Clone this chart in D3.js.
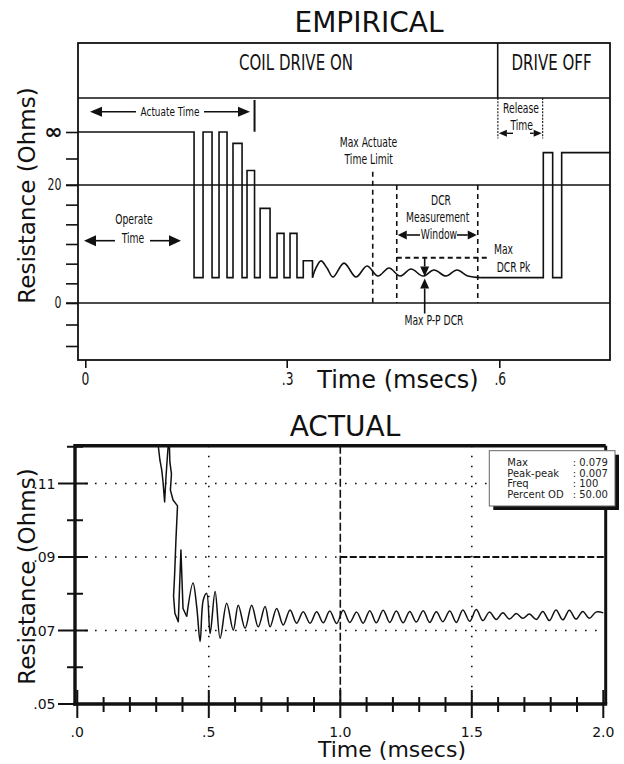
<!DOCTYPE html>
<html><head><meta charset="utf-8">
<script src="https://cdn.jsdelivr.net/npm/d3@7"></script>
<style>body{margin:0;background:#fff} svg{display:block}</style>
</head><body>
<svg id="c" width="624" height="764"></svg>
<script>
// ---------------- DATA ----------------
// EMPIRICAL panel (time in ms, resistance in axis divisions: 0 -> "0", 6 -> "20", 8 -> "∞")
const empStepT = [-0.0109, 0.162, 0.1754, 0.1888, 0.1992, 0.2111, 0.2200, 0.2335, 0.2409, 0.2521, 0.2604, 0.2752, 0.2856, 0.2960, 0.3047, 0.3145, 0.3234, 0.3364];
const empStepV = [8, 1.29, 8, 1.29, 8, 1.29, 7.57, 1.29, 6.55, 1.29, 4.81, 1.29, 3.54, 1.29, 3.54, 1.29, 2.15, 1.29];
const empWaveT = [0.3364, 0.3413, 0.3484, 0.3569, 0.3653, 0.3809, 0.3978, 0.4133, 0.4288, 0.4444, 0.4599, 0.4754, 0.4923, 0.5078, 0.5248, 0.5403, 0.5558, 0.5741];
const empWaveV = [1.29, 1.78, 2.14, 1.78, 1.32, 2.03, 1.32, 1.88, 1.37, 1.78, 1.37, 1.73, 1.37, 1.68, 1.37, 1.68, 1.37, 1.29];
const empRelT = [0.5741, 0.6621, 0.6753, 0.6880, 0.756];
const empRelV = [1.29, 7.22, 1.29, 7.22, 7.22];
const empYTicks = [-2, -1, 0, 1, 2, 3, 4, 5, 6, 7, 8];
const empYLabelVals = [0, 6, 8];
const empYLabelText = ["0", "20", "\u221E"];
const empXTicks = [0, 0.3, 0.6];
const empXLabels = ["0", ".3", ".6"];
const empMaxActuate = 0.4214;
const empDcrWindow = [0.4553, 0.5696];
const empDcrPk = 2.30;
const empPP = 0.4947;
const empRelease = [0.598, 0.6612];
const empActuateEnd = 0.2521;

// ACTUAL panel (time in ms, resistance in ohms)
const actT = [0.296, 0.308, 0.314, 0.321, 0.326, 0.332, 0.337, 0.341, 0.346, 0.349, 0.352, 0.358, 0.354, 0.364, 0.381, 0.375, 0.370, 0.366, 0.371, 0.384, 0.394, 0.402, 0.416,
  0.440, 0.454, 0.467, 0.479, 0.492, 0.505, 0.524, 0.543, 0.568, 0.593, 0.612, 0.638, 0.663, 0.688, 0.714, 0.733, 0.758, 0.783, 0.809, 0.834, 0.859, 0.885, 0.910,
  0.935, 0.960, 0.986, 1.011, 1.036, 1.062, 1.087, 1.112, 1.137, 1.163, 1.188, 1.213, 1.239, 1.264, 1.289, 1.315, 1.340, 1.365, 1.390, 1.416, 1.441, 1.466, 1.492,
  1.517, 1.542, 1.567, 1.593, 1.618, 1.643, 1.669, 1.694, 1.719, 1.745, 1.770, 1.795, 1.820, 1.846, 1.871, 1.896, 1.922, 1.947, 1.972, 2.000];
const actR = [0.128, 0.1202, 0.1164, 0.1137, 0.1104, 0.1050, 0.1115, 0.1158, 0.1207, 0.1235, 0.1158, 0.1126, 0.1082, 0.1055, 0.1039, 0.0946, 0.0851, 0.0794, 0.0747, 0.0724, 0.0919, 0.0760, 0.0738,
  0.0829, 0.0765, 0.0670, 0.0783, 0.0801, 0.0692, 0.0806, 0.0679, 0.0774, 0.0701, 0.0769, 0.0706, 0.0769, 0.0710, 0.0765, 0.0710, 0.0760, 0.0715, 0.0756, 0.0720, 0.0751, 0.0720, 0.0751,
  0.0721, 0.0753, 0.0719, 0.0755, 0.0722, 0.0750, 0.0720, 0.0754, 0.0721, 0.0755, 0.0722, 0.0753, 0.0721, 0.0752, 0.0723, 0.0754, 0.0722, 0.0751, 0.0724, 0.0753, 0.0722, 0.0756, 0.0725,
  0.0757, 0.0727, 0.0750, 0.0730, 0.0748, 0.0731, 0.0746, 0.0733, 0.0745, 0.0730, 0.0752, 0.0727, 0.0756, 0.0729, 0.0755, 0.0731, 0.0752, 0.0733, 0.0750, 0.0748];
const actSmoothFrom = 22; // index from which the trace is a smooth ringing
const actXMajor = [0, 0.5, 1, 1.5, 2];
const actXLabels = [".0", ".5", "1.0", "1.5", "2.0"];
const actYMajor = [0.05, 0.07, 0.09, 0.11];
const actYLabels = [".05", ".07", ".09", ".11"];
const actYMinor = [0.06, 0.08, 0.10, 0.12];
const actDotH = [0.07, 0.11];
const actDotV = [0.5, 1.5];
const actLimitT = 1.0;
const actLimitR = 0.09;
const legendKeys = ["Max", "Peak-peak", "Freq", "Percent OD"];
const legendVals = [": 0.079", ": 0.007", ": 100", ": 50.00"];

// ---------------- DRAW ----------------
const svg = d3.select("#c");
const FONT = "'DejaVu Sans', Verdana, sans-serif";
const COND = "'DejaVu Sans Condensed','DejaVu Sans',sans-serif";
const SX = 0.76;
const INK = "#111";

function ctext(g, x, y, str, size, anchor) {
  return g.append("text").attr("transform", `translate(${x},${y}) scale(${SX},1)`)
    .attr("font-family", COND).attr("font-stretch", "condensed").attr("font-size", size)
    .attr("text-anchor", anchor || "middle").attr("fill", INK).text(str);
}
function ntext(g, x, y, str, size, anchor) {
  return g.append("text").attr("x", x).attr("y", y)
    .attr("font-family", FONT).attr("font-size", size)
    .attr("text-anchor", anchor || "middle").attr("fill", INK).text(str);
}
function line(g, x1, y1, x2, y2, w, dash) {
  const l = g.append("line").attr("x1", x1).attr("y1", y1).attr("x2", x2).attr("y2", y2)
    .attr("stroke", INK).attr("stroke-width", w || 1.6);
  if (dash) l.attr("stroke-dasharray", dash);
  return l;
}
function arrow(g, x1, y1, x2, y2, head, half, w) {
  head = head || 11; half = half || 4.5; w = w || 1.6;
  const ang = Math.atan2(y2 - y1, x2 - x1);
  const bx = x2 - head * Math.cos(ang), by = y2 - head * Math.sin(ang);
  line(g, x1, y1, bx, by, w);
  const px = -Math.sin(ang) * half, py = Math.cos(ang) * half;
  g.append("path").attr("d", `M${x2},${y2}L${bx + px},${by + py}L${bx - px},${by - py}Z`).attr("fill", INK);
}

// ===== EMPIRICAL =====
const E = { left: 78, right: 610, top: 43, bottom: 360, header: 98, divider: 497.7 };
const xE = d3.scaleLinear().domain([0, 0.3, 0.6]).range([85.3, 286.7, 499.3]);
const yE = d3.scaleLinear().domain([-2, 0, 6, 8]).range([346, 303, 185, 132]);
const ge = svg.append("g");

ntext(ge, 369, 31.5, "EMPIRICAL", 28);
ge.append("rect").attr("x", E.left).attr("y", E.top).attr("width", E.right - E.left).attr("height", E.bottom - E.top)
  .attr("fill", "none").attr("stroke", INK).attr("stroke-width", 1.8);
line(ge, E.left, E.header, E.right, E.header, 1.6);
line(ge, E.divider, E.top, E.divider, E.header, 1.6);
ctext(ge, 296, 69.5, "COIL DRIVE ON", 22);
ctext(ge, 551.5, 69.5, "DRIVE OFF", 22);

// y axis
const yAxE = d3.axisLeft(yE).tickValues(empYTicks).tickSize(12).tickFormat("");
const gyE = ge.append("g").attr("transform", `translate(${E.left},0)`).call(yAxE);
gyE.select(".domain").remove();
gyE.selectAll(".tick line").attr("stroke", INK).attr("stroke-width", 1.6);
[0, 6].forEach(k => line(ge, E.left - 12, yE(k), E.right, yE(k), 1.6));
empYLabelVals.forEach((k, i) => {
  if (empYLabelText[i] === "\u221E") {
    ntext(ge, 53.5, yE(k) + 6.5, empYLabelText[i], 22).attr("font-weight", "bold");
  } else {
    ctext(ge, 61.5, yE(k) + 4.5, empYLabelText[i], 16, "end");
  }
});
// x axis
const xAxE = d3.axisBottom(xE).tickValues(empXTicks).tickSize(8).tickFormat("");
const gxE = ge.append("g").attr("transform", `translate(0,${E.bottom})`).call(xAxE);
gxE.select(".domain").remove();
gxE.selectAll(".tick line").attr("stroke", INK).attr("stroke-width", 1.6);
empXTicks.forEach((t, i) => ctext(ge, xE(t) + (i ? 1 : 0), 385, empXLabels[i], 18));
ntext(ge, 398, 388, "Time (msecs)", 24);
ge.append("text").attr("transform", "translate(35,195.5) rotate(-90)").attr("font-family", FONT)
  .attr("font-size", 23).attr("text-anchor", "middle").attr("fill", INK).text("Resistance (Ohms)");

// waveform
const stepGen = d3.line().x(d => xE(d[0])).y(d => yE(d[1])).curve(d3.curveStepAfter);
const waveGen = d3.line().x(d => xE(d[0])).y(d => yE(d[1])).curve(d3.curveCatmullRom.alpha(0.5));
const wStyle = p => p.attr("fill", "none").attr("stroke", INK).attr("stroke-width", 1.6);
ge.append("path").attr("d", stepGen(empStepT.map((t, i) => [t, empStepV[i]]))).call(wStyle);
ge.append("path").attr("d", waveGen(empWaveT.map((t, i) => [t, empWaveV[i]]))).call(wStyle);
ge.append("path").attr("d", stepGen(empRelT.map((t, i) => [t, empRelV[i]]))).call(wStyle);

// annotations
arrow(ge, 136, 111.7, 90, 111.7, 12, 5);
arrow(ge, 204, 111.7, 250, 111.7, 12, 5);
ctext(ge, 170, 115.5, "Actuate Time", 13);
line(ge, xE(empActuateEnd), 100, xE(empActuateEnd), 131.7, 2);

ctext(ge, 134, 224.3, "Operate", 13.5);
ctext(ge, 133, 243, "Time", 13.5);
arrow(ge, 115, 240.7, 84, 240.7, 12, 5.5);
arrow(ge, 150, 240.7, 181, 240.7, 12, 5.5);

ctext(ge, 368.5, 146.7, "Max Actuate", 13.5);
ctext(ge, 368.7, 164.3, "Time Limit", 13.5);
line(ge, xE(empMaxActuate), 171.7, xE(empMaxActuate), yE(0), 1.6, "5,4");

empDcrWindow.forEach(t => line(ge, xE(t), yE(6), xE(t), yE(0), 1.6, "5,4"));
ctext(ge, 441, 205, "DCR", 13.5);
ctext(ge, 437.7, 221.7, "Measurement", 13.5);
ctext(ge, 439, 238.5, "Window", 13.5);
arrow(ge, 420, 235, xE(empDcrWindow[0]) + 1, 235, 9, 4.5);
arrow(ge, 457, 235, xE(empDcrWindow[1]) - 1, 235, 9, 4.5);
line(ge, xE(empDcrWindow[0]), yE(empDcrPk), 490, yE(empDcrPk), 1.8, "5,3.5");
ctext(ge, 494, 254, "Max", 13.5, "start");
ctext(ge, 496.7, 271.7, "DCR Pk", 13.5, "start");
arrow(ge, xE(empPP), yE(empDcrPk), xE(empPP), 276.5, 10, 4.5);
arrow(ge, xE(empPP), 313.5, xE(empPP), 278.5, 10, 4.5);
ctext(ge, 434, 325, "Max P-P DCR", 13.5);

empRelease.forEach(t => line(ge, xE(t), E.header, xE(t), 138.5, 1.1, "2,1.3"));
ctext(ge, 521, 113, "Release", 13.5);
ctext(ge, 521.7, 130, "Time", 13.5);
arrow(ge, 513, 133.3, xE(empRelease[0]) + 1, 133.3, 8, 3.5, 1.4);
arrow(ge, 530, 133.3, xE(empRelease[1]) - 1, 133.3, 8, 3.5, 1.4);

// ===== ACTUAL =====
const A = { left: 75, right: 605.7, top: 445.7, bottom: 704 };
const xA = d3.scaleLinear().domain([0, 2]).range([77.3, 603.3]);
const yA = d3.scaleLinear().domain([0.05, 0.12]).range([704, 446.75]);
const ga = svg.append("g");
ntext(ga, 345, 436, "ACTUAL", 28);

const DOT = "1.6,8.4";
actDotH.forEach(v => line(ga, A.left, yA(v), A.right, yA(v), 1.6, DOT));
line(ga, A.left, yA(actLimitR), xA(actLimitT), yA(actLimitR), 1.6, DOT);
actDotV.forEach(t => line(ga, xA(t), A.top, xA(t), A.bottom, 1.6, DOT));
line(ga, xA(actLimitT), A.top, xA(actLimitT), A.bottom, 1.6, "8,3");
line(ga, xA(actLimitT), yA(actLimitR), A.right, yA(actLimitR), 1.8, "7,2.5");

// trace
ga.append("clipPath").attr("id", "clipA").append("rect")
  .attr("x", A.left).attr("y", A.top).attr("width", A.right - A.left).attr("height", A.bottom - A.top);
const traceData = actT.map((t, i) => [t, actR[i]]);
const linGen = d3.line().x(d => xA(d[0])).y(d => yA(d[1]));
const smGen = d3.line().x(d => xA(d[0])).y(d => yA(d[1])).curve(d3.curveCatmullRom.alpha(0.5));
const gt = ga.append("g").attr("clip-path", "url(#clipA)");
gt.append("path").attr("d", linGen(traceData.slice(0, actSmoothFrom + 1))).call(wStyle).attr("stroke-width", 1.5).attr("stroke-linejoin", "round");
gt.append("path").attr("d", smGen(traceData.slice(actSmoothFrom))).call(wStyle).attr("stroke-width", 1.5);

// frame
line(ga, A.left, A.top, A.right, A.top, 3.4);
line(ga, A.right, A.top, A.right, A.bottom, 3);
line(ga, A.left, A.top - 1.7, A.left, A.bottom + 1.7, 3.4);
line(ga, A.left - 1.7, A.bottom, A.right + 1.5, A.bottom, 3.4);

// ticks
xA.ticks(20).forEach(t => {
  const major = actXMajor.some(m => Math.abs(m - t) < 1e-9);
  line(ga, xA(t), major ? 690 : 697, xA(t), major ? 718 : 712, 2);
});
actYMinor.forEach(v => line(ga, 67, yA(v), 83, yA(v), 2));
actYMajor.forEach(v => line(ga, 58, yA(v), 88, yA(v), 2));
actXMajor.forEach((t, i) => ntext(ga, xA(t), 737, actXLabels[i], 14));
actYMajor.forEach((v, i) => ntext(ga, 55.5, yA(v) + 5, actYLabels[i], 14, "end"));
ntext(ga, 392, 757, "Time (msecs)", 22);
ga.append("text").attr("transform", "translate(35,576.5) rotate(-90)").attr("font-family", FONT)
  .attr("font-size", 23).attr("text-anchor", "middle").attr("fill", INK).text("Resistance (Ohms)");

// legend
const L = { x: 489.3, y: 450.7, w: 125.7, h: 55.3 };
ga.append("rect").attr("x", L.x + 4).attr("y", L.y + 4).attr("width", L.w).attr("height", L.h).attr("fill", INK);
ga.append("rect").attr("x", L.x).attr("y", L.y).attr("width", L.w).attr("height", L.h).attr("fill", "#fff").attr("stroke", "#666").attr("stroke-width", 1);
legendKeys.forEach((k, i) => {
  ntext(ga, 507.3, 466 + i * 10.7, k, 10, "start").attr("fill", "#222");
  ntext(ga, 572.7, 466 + i * 10.7, legendVals[i], 10, "start").attr("fill", "#222");
});
</script></body></html>
